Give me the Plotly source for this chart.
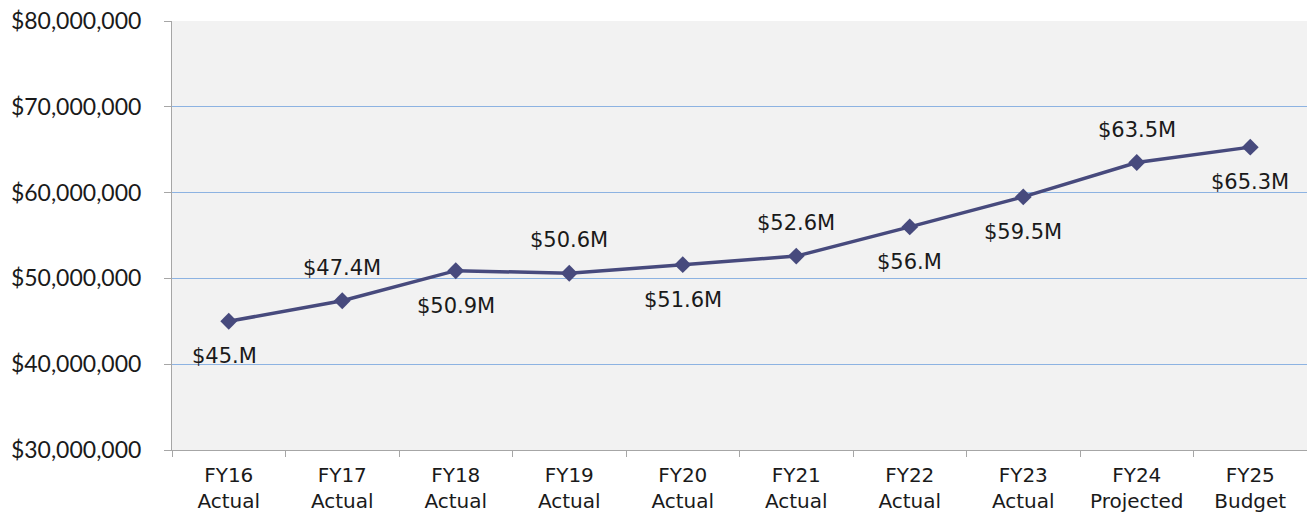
import plotly.graph_objects as go

categories = ["FY16<br>Actual", "FY17<br>Actual", "FY18<br>Actual", "FY19<br>Actual", "FY20<br>Actual",
              "FY21<br>Actual", "FY22<br>Actual", "FY23<br>Actual", "FY24<br>Projected", "FY25<br>Budget"]
values = [45.0e6, 47.4e6, 50.9e6, 50.6e6, 51.6e6, 52.6e6, 56.0e6, 59.5e6, 63.5e6, 65.3e6]
labels = ["$45.M", "$47.4M", "$50.9M", "$50.6M", "$51.6M", "$52.6M", "$56.M", "$59.5M", "$63.5M", "$65.3M"]
label_side = ["below", "above", "below", "above", "below", "above", "below", "below", "above", "below"]

LINE = "#474a7d"
fig = go.Figure()
fig.add_trace(go.Scatter(
    x=categories, y=values, mode="lines+markers",
    line=dict(color=LINE, width=3.5),
    marker=dict(symbol="diamond", size=13, color=LINE),
    hoverinfo="skip", showlegend=False, cliponaxis=False,
))

for c, v, t, s in zip(categories, values, labels, label_side):
    fig.add_annotation(x=c, y=v, text=t, showarrow=False,
                       yshift=33 if s == "above" else -35, xshift=-4 if t == "$45.M" else 0,
                       font=dict(family="DejaVu Sans", size=21, color="#1a1a1a"))

fig.update_layout(
    width=1307, height=516,
    margin=dict(l=172, r=0, t=21, b=66, autoexpand=False),
    paper_bgcolor="white", plot_bgcolor="#f2f2f2",
    xaxis=dict(type="category", tickson="boundaries", ticks="outside", ticklen=6,
               tickcolor="#a6a6a6", showline=True, linecolor="#a6a6a6", linewidth=1,
               showgrid=False, tickfont=dict(family="DejaVu Sans", size=20, color="#1a1a1a"),
               range=[-0.5, 9.5], automargin=False, ticklabelstandoff=7),
    yaxis=dict(range=[30e6, 80e6], dtick=10e6, tickformat="$,.0f", ticks="outside", ticklen=7,
               tickcolor="#a6a6a6", showline=True, linecolor="#a6a6a6", linewidth=1,
               gridcolor="#8db3e2", gridwidth=1, zeroline=False, automargin=False,
               ticklabelstandoff=18,
               tickfont=dict(family="Lato", size=23, color="#1a1a1a")),
)
fig.write_html("out.html", config={"displayModeBar": False},
               post_script="document.body.style.margin='0';document.body.style.overflow='hidden';")
